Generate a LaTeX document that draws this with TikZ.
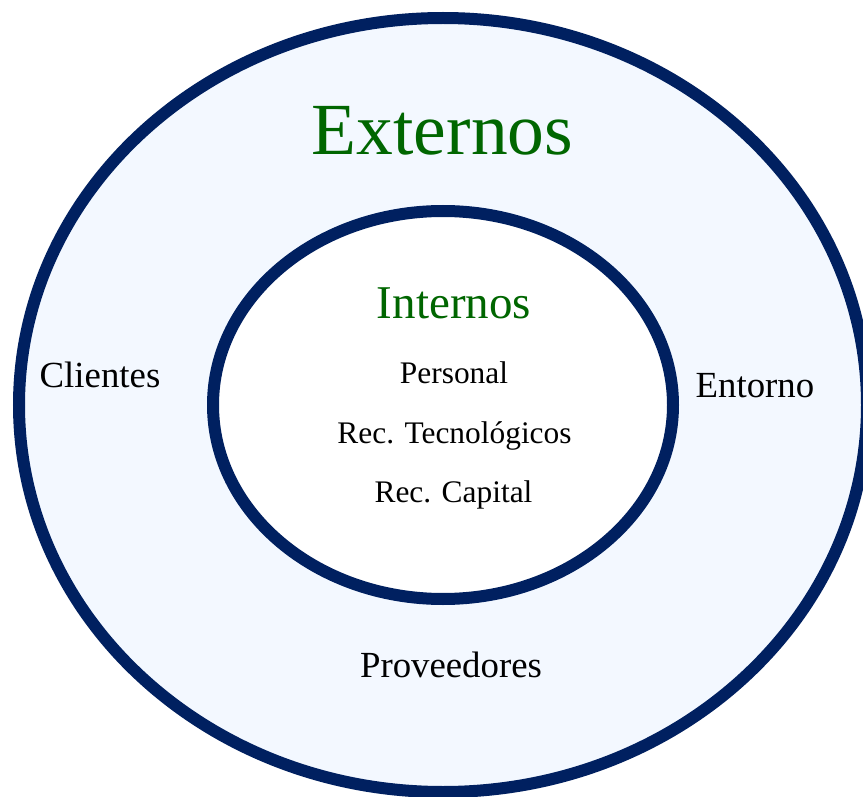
\documentclass[tikz,border=0pt]{standalone}
\usepackage{fontspec}
\setmainfont{Liberation Serif}
\usepackage{tikz}
\definecolor{ringblue}{RGB}{0,32,96}
\definecolor{paleblue}{RGB}{243,248,255}
\definecolor{titlegreen}{RGB}{0,102,0}

\begin{document}
\begin{tikzpicture}[x=1pt, y=-1pt,
        ring/.style ={draw=ringblue, line width=12pt},
        title/.style ={text=titlegreen, anchor=base, inner sep=0pt},
        item/.style ={text=black, anchor=base, inner sep=0pt, font=\fontsize{36.8}{40}\selectfont},
        inner item/.style ={item, font=\fontsize{31.4}{34}\selectfont}]

        \useasboundingbox (0, 0) rectangle (863, 797);
        \clip (0, 0) rectangle (863, 797);

        % anillos
        \fill[white] (0, 0) rectangle (863, 797);
        \draw[ring, fill=paleblue] (443, 405) ellipse [x radius=424, y radius=387];
        \draw[ring, fill=white] (443, 405) ellipse [x radius=230, y radius=194];

        % externos
        \node[title, font=\fontsize{73.5}{80}\selectfont] (ext) at (442.5, 155) {Externos};
        \node[item] (cli) at (100, 387) {Clientes};
        \node[item] (ent) at (755, 397) {Entorno};
        \node[item] (prov) at (451, 677) {Proveedores};

        % internos
        \node[title, font=\fontsize{47}{50}\selectfont] (int) at (454, 318) {Internos};
        \node[inner item] (pers) at (454, 383) {Personal};
        \node[inner item] (tec) at (454.5, 443) {Rec. Tecnológicos};
        \node[inner item] (cap) at (453.5, 502) {Rec. Capital};
    \end{tikzpicture}
\end{document}
